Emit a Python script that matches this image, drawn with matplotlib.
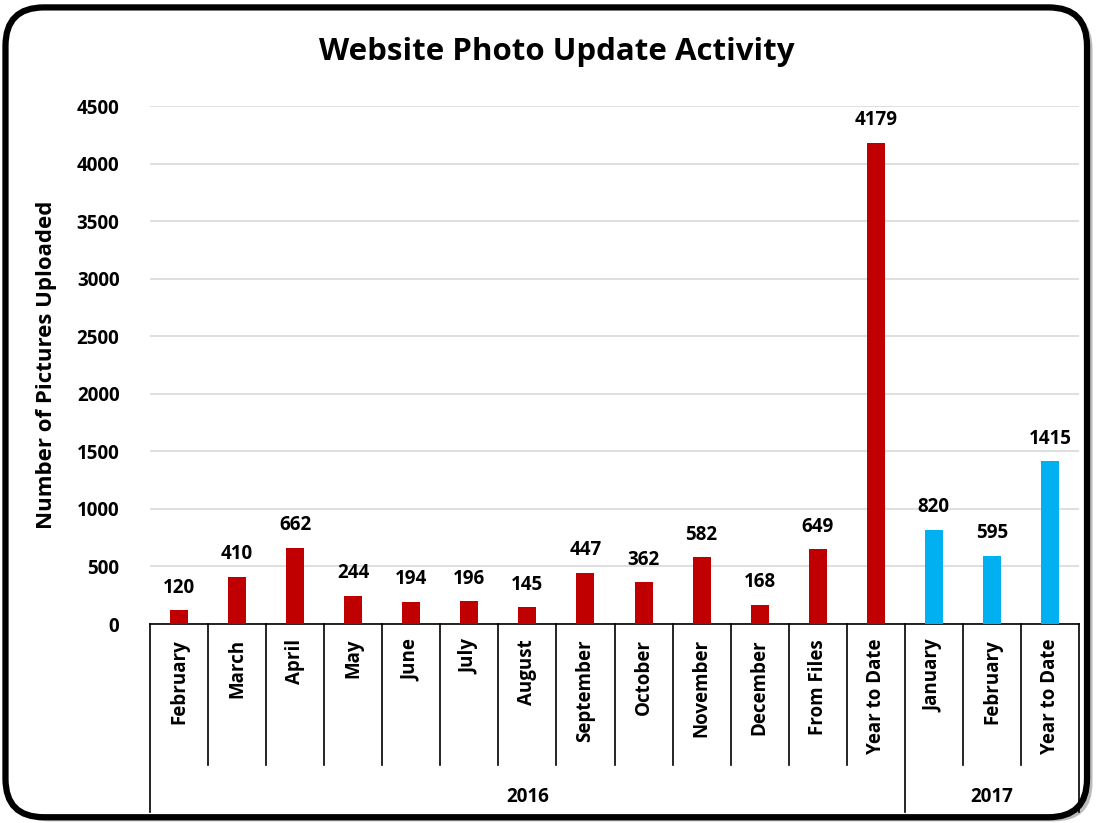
import matplotlib
matplotlib.use("Agg")
import matplotlib.pyplot as plt
from matplotlib.patches import FancyBboxPatch
from matplotlib.transforms import blended_transform_factory
import numpy as np

categories = ["February", "March", "April", "May", "June", "July", "August",
              "September", "October", "November", "December", "From Files",
              "Year to Date", "January", "February", "Year to Date"]
values = [120, 410, 662, 244, 194, 196, 145, 447, 362, 582, 168, 649, 4179,
          820, 595, 1415]
years = ["2016", "2017"]
year_counts = [13, 3]
year_colors = ["#C00000", "#00B0F0"]
yticks = [0, 500, 1000, 1500, 2000, 2500, 3000, 3500, 4000, 4500]

plt.rcParams['font.family'] = ['Open Sans', 'DejaVu Sans']

fig = plt.figure(figsize=(10.98, 8.23), dpi=100)

# Rounded border with shadow
shadow = FancyBboxPatch((0.010, 0.002), 0.985, 0.985, boxstyle="round,pad=0,rounding_size=0.035",
                        transform=fig.transFigure, facecolor="#bbbbbb", edgecolor="none",
                        zorder=0, mutation_aspect=1098/823)
fig.patches.append(shadow)
border = FancyBboxPatch((0.005, 0.007), 0.985, 0.984, boxstyle="round,pad=0,rounding_size=0.035",
                        transform=fig.transFigure, facecolor="white", edgecolor="black",
                        linewidth=4.5, zorder=1, mutation_aspect=1098/823)
fig.patches.append(border)

ax = fig.add_axes([150/1098, 1 - 624/823, (1079-150)/1098, (624-106)/823])
ax.set_facecolor("none")
ax.set_zorder(2)

colors = []
for c, n in zip(year_colors, year_counts):
    colors += [c] * n
x = np.arange(len(categories))
ax.bar(x, values, width=0.31, color=colors, zorder=3)
for xi, v in zip(x, values):
    ax.annotate(str(v), (xi, v), xytext=(0, 9), textcoords="offset points",
                ha="center", va="bottom", fontsize=13.5, fontweight="bold")

ax.set_xlim(-0.5, len(categories) - 0.5)
ax.set_ylim(0, 4500)
ax.set_yticks(yticks)
ax.set_yticklabels([str(t) for t in yticks], fontsize=13.5, fontweight="bold")
ax.tick_params(axis="y", length=0, pad=22)
ax.yaxis.grid(True, color="#d9d9d9", linewidth=1.2, zorder=0)
ax.set_axisbelow(True)
for s in ["top", "right", "left"]:
    ax.spines[s].set_visible(False)
ax.spines["bottom"].set_color("black")
ax.spines["bottom"].set_linewidth(1.2)

ax.set_xticks(x)
ax.set_xticklabels([])
ax.tick_params(axis="x", length=0)

trans = blended_transform_factory(ax.transData, ax.transAxes)
h = 518.0
y_cat = -(765 - 624) / h
y_year = -(812 - 624) / h
for xi, lab in zip(x, categories):
    ax.text(xi, -(639 - 624) / h, lab, transform=trans, rotation=90, ha="center", va="top",
            fontsize=13.5, fontweight="bold")

# separators
bounds = np.cumsum([0] + year_counts) - 0.5
for b in np.arange(-0.5, len(categories) + 0.5, 1.0):
    bottom = y_year if np.any(np.isclose(bounds, b)) else y_cat
    ax.plot([b, b], [0, bottom], transform=trans, color="black", linewidth=1.2, clip_on=False)
start = 0
for yr, n in zip(years, year_counts):
    mid = start + (n - 1) / 2
    ax.text(mid, -(797 - 624) / h, yr, transform=trans, ha="center", va="center",
            fontsize=13.5, fontweight="bold")
    start += n

ax.set_ylabel("Number of Pictures Uploaded", fontsize=16, fontweight="bold")
ax.yaxis.set_label_coords(-(150 - 57) / 929, 0.5)

fig.text(557/1098, 1 - 52/823, "Website Photo Update Activity", ha="center", va="center",
         fontsize=22.5, fontweight="bold")

fig.savefig("out.png", dpi=100)
